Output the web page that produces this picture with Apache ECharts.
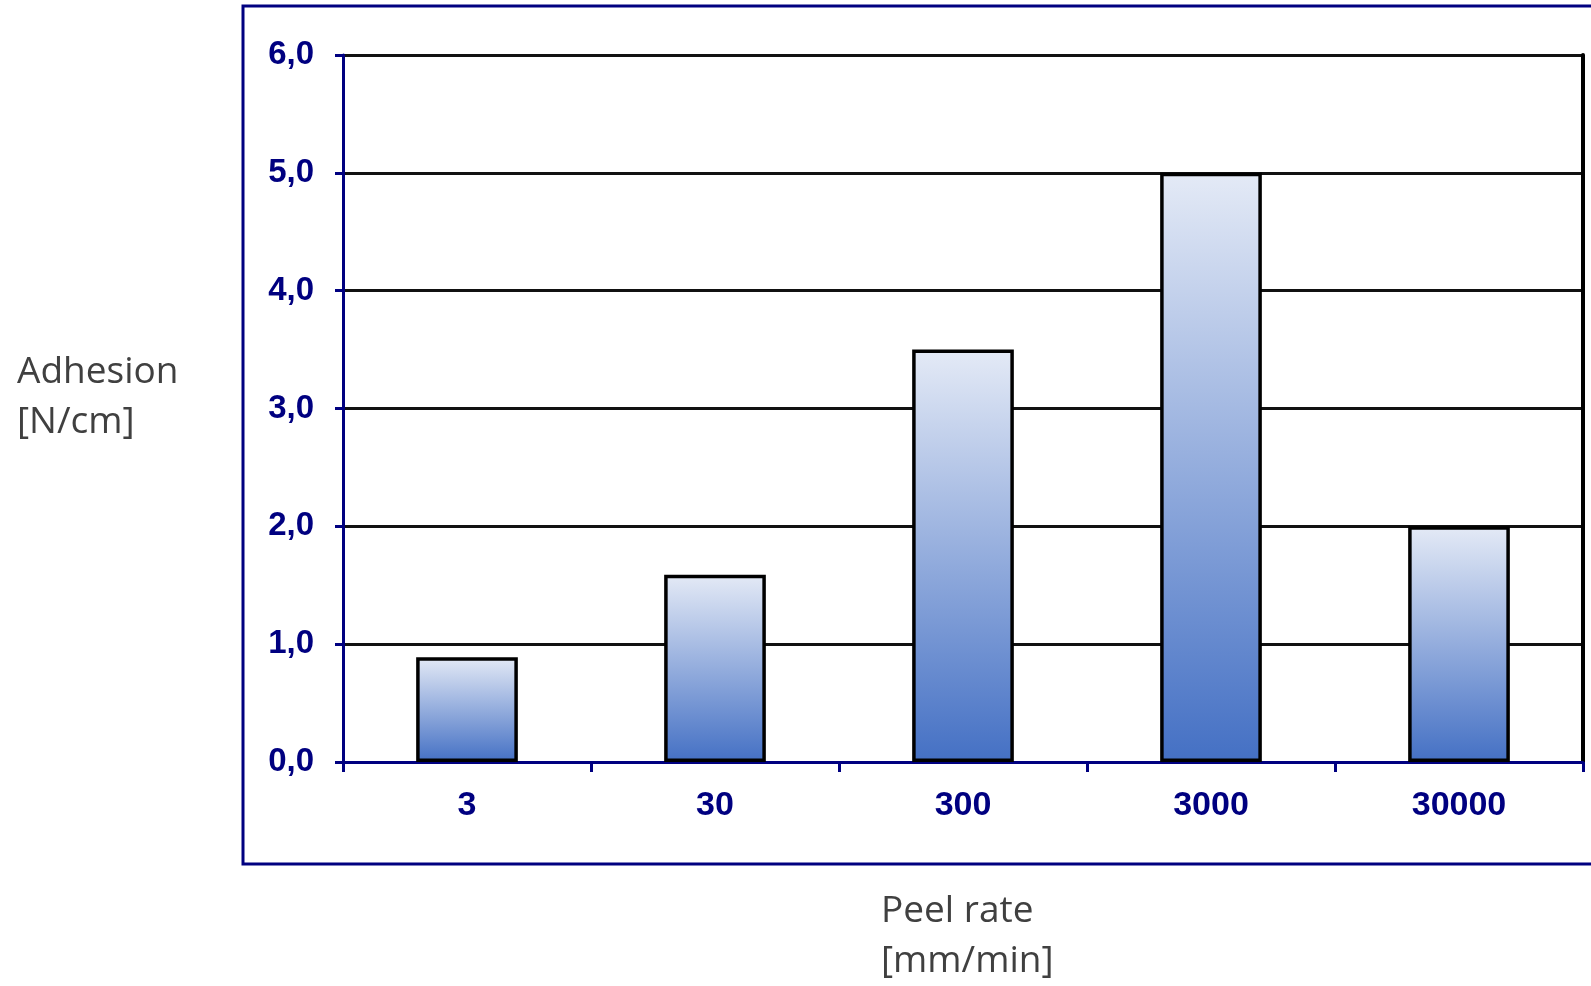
<!DOCTYPE html>
<html>
<head>
<meta charset="utf-8">
<script src="https://cdn.jsdelivr.net/npm/echarts@6/dist/echarts.min.js"></script>
<style>
html,body{margin:0;padding:0;background:#fff;}
#chart{width:1591px;height:986px;}
</style>
</head>
<body>
<div id="chart"></div>
<script>
const categories = ['3', '30', '300', '3000', '30000'];
const adhesion = [0.89, 1.59, 3.5, 5.0, 2.0];
const yTicks = [0, 1, 2, 3, 4, 5, 6];
const yAxisTitle = ['Adhesion', '[N/cm]'];
const xAxisTitle = ['Peel rate', '[mm/min]'];

const navy = '#000080';
const chart = echarts.init(document.getElementById('chart'));
chart.setOption({
  animation: false,
  backgroundColor: '#fff',
  grid: { left: 343, right: 8, top: 55, bottom: 224, containLabel: false },
  xAxis: {
    type: 'category',
    data: categories,
    boundaryGap: true,
    axisLine: { show: true, lineStyle: { color: navy, width: 3 } },
    axisTick: { show: true, length: 10, alignWithLabel: false, lineStyle: { color: navy, width: 3 } },
    axisLabel: { color: navy, fontFamily: 'Liberation Sans, Arial', fontWeight: 'bold', fontSize: 34, margin: 27 },
    splitLine: { show: false }
  },
  yAxis: [{
    type: 'value',
    min: yTicks[0],
    max: yTicks[yTicks.length - 1],
    interval: 1,
    axisLine: { show: true, lineStyle: { color: navy, width: 3 } },
    axisTick: { show: true, length: 8, lineStyle: { color: navy, width: 3 } },
    axisLabel: {
      color: navy, fontFamily: 'Liberation Sans, Arial', fontWeight: 'bold', fontSize: 33, margin: 29,
      formatter: v => v.toFixed(1).replace('.', ',')
    },
    splitLine: { show: true, lineStyle: { color: '#111', width: 3 } }
  }, {
    type: 'value',
    position: 'right',
    min: yTicks[0],
    max: yTicks[yTicks.length - 1],
    interval: 1,
    axisLine: { show: true, lineStyle: { color: '#000', width: 4 } },
    axisTick: { show: false },
    axisLabel: { show: false },
    splitLine: { show: false }
  }],
  series: [{
    type: 'bar',
    data: adhesion,
    barWidth: '41%',
    itemStyle: {
      borderColor: '#000',
      borderWidth: 3.5,
      color: new echarts.graphic.LinearGradient(0, 0, 0, 1, [
        { offset: 0, color: '#e4eaf6' },
        { offset: 1, color: '#4470c4' }
      ])
    }
  }],
  graphic: [
    {
      type: 'rect', z: -1,
      shape: { x: 243, y: 6, width: 1420, height: 858 },
      style: { fill: 'none', stroke: navy, lineWidth: 3 }
    },
    {
      type: 'text', left: 17, top: 347,
      style: { text: yAxisTitle.join('\n'), fill: '#404040', font: '37px "Open Sans"', lineHeight: 50 }
    },
    {
      type: 'text', left: 881, top: 886,
      style: { text: xAxisTitle.join('\n'), fill: '#404040', font: '37px "Open Sans"', lineHeight: 50 }
    }
  ]
});
</script>
</body>
</html>
